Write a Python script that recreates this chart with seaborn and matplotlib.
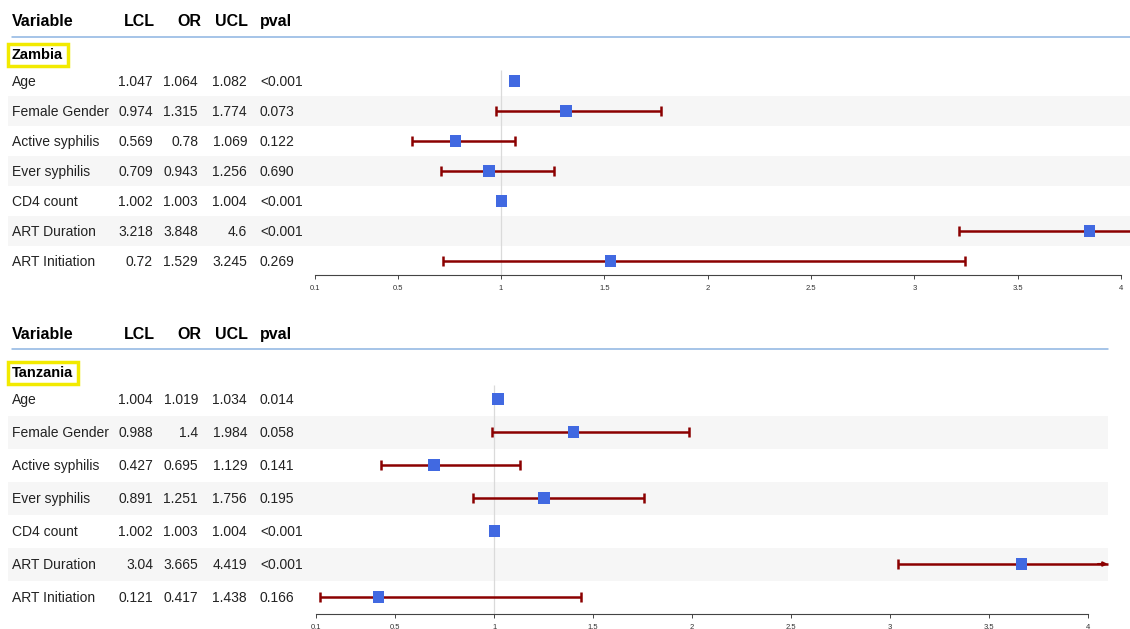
import matplotlib
matplotlib.use("Agg")
import matplotlib.pyplot as plt
import seaborn as sns
import numpy as np
from matplotlib.transforms import blended_transform_factory, offset_copy
from matplotlib.patches import Rectangle

# ---------------- data ----------------
variables = ["Age", "Female Gender", "Active syphilis", "Ever syphilis",
             "CD4 count", "ART Duration", "ART Initiation"]
columns = ["Variable", "LCL", "OR", "UCL", "pval"]

zambia_lcl = [1.047, 0.974, 0.569, 0.709, 1.002, 3.218, 0.72]
zambia_or = [1.064, 1.315, 0.78, 0.943, 1.003, 3.848, 1.529]
zambia_ucl = [1.082, 1.774, 1.069, 1.256, 1.004, 4.6, 3.245]
zambia_p = ["<0.001", "0.073", "0.122", "0.690", "<0.001", "<0.001", "0.269"]

tanz_lcl = [1.004, 0.988, 0.427, 0.891, 1.002, 3.04, 0.121]
tanz_or = [1.019, 1.4, 0.695, 1.251, 1.003, 3.665, 0.417]
tanz_ucl = [1.034, 1.984, 1.129, 1.756, 1.004, 4.419, 1.438]
tanz_p = ["0.014", "0.058", "0.141", "0.195", "<0.001", "<0.001", "0.166"]

xticks = [0.1, 0.5, 1, 1.5, 2, 2.5, 3, 3.5, 4]
xtick_labels = ["0.1", "0.5", "1", "1.5", "2", "2.5", "3", "3.5", "4"]

# ---------------- style ----------------
sns.set_theme(style="white")
plt.rcParams["font.family"] = ["Liberation Sans", "DejaVu Sans"]

W, H = 1130, 629
fig = plt.figure(figsize=(W / 100, H / 100), dpi=100)

PT_BLUE = "#4169E1"
CI_RED = "#8B0000"
SHADE = "#F6F6F6"
LINE_BLUE = "#8DB4E2"
XMAX_PLOT = 4.1


def panel(ax_top, ax_bot, age_px, row_px, header_px, line_px, label_px,
          ref_top_px, axis_px, x01_px, x4_px, line_right_px, shade_right_px,
          country, lcl, orv, ucl, pv):
    ax = fig.add_axes([0, 1 - ax_bot / H, 1, (ax_bot - ax_top) / H])
    ppu = (x4_px - x01_px) / 3.9
    ax.set_xlim(0.1 - x01_px / ppu, 0.1 + (W - x01_px) / ppu)

    def yrow(px):
        return (px - age_px) / row_px

    ax.set_ylim(yrow(ax_bot), yrow(ax_top))
    trans = blended_transform_factory(ax.transAxes, ax.transData)
    # baseline transforms: shift down by half the cap height
    tr_body = offset_copy(trans, fig=fig, x=0, y=-3.6, units="points")
    tr_head = offset_copy(trans, fig=fig, x=0, y=-4.1, units="points")
    rows = np.arange(len(variables))

    # shading of alternate rows
    for i in rows:
        if i % 2 == 1:
            ax.add_patch(Rectangle((8 / W, i - 0.5), (shade_right_px - 8) / W, 1,
                                   transform=trans, facecolor=SHADE,
                                   edgecolor="none", zorder=0))

    # header
    hx = {"Variable": (12, "left"), "LCL": (155, "right"), "OR": (201, "right"),
          "UCL": (248, "right"), "pval": (260, "left")}
    for c in columns:
        x, ha = hx[c]
        ax.text(x / W, yrow(header_px), c, transform=tr_head, ha=ha,
                va="baseline", fontsize=11.5, fontweight="bold",
                color="black")
    ax.plot([12 / W, line_right_px / W], [yrow(line_px)] * 2, transform=trans,
            color=LINE_BLUE, lw=1.1, clip_on=False)

    # country label
    ax.text(12 / W, yrow(label_px), country, transform=trans, ha="left",
            va="center", fontsize=10.5, fontweight="bold", color="black",
            bbox=dict(boxstyle="square,pad=0.3", facecolor="white",
                      edgecolor="#F2EA00", linewidth=2.5))

    # table rows
    for i, v in enumerate(variables):
        y = rows[i]
        kw = dict(transform=tr_body, va="baseline", fontsize=10,
                  color="#222222")
        ax.text(12 / W, y, v, ha="left", **kw)
        ax.text(153 / W, y, f"{lcl[i]:g}", ha="right", **kw)
        ax.text(198 / W, y, f"{orv[i]:g}", ha="right", **kw)
        ax.text(247 / W, y, f"{ucl[i]:g}", ha="right", **kw)
        ax.text(260 / W, y, pv[i], ha="left", **kw)

    # reference line
    ax.vlines(1, yrow(ref_top_px), yrow(axis_px), color="#DADADA", lw=0.9,
              zorder=1)

    # CI lines
    for i in rows:
        lo, hi = lcl[i], ucl[i]
        trunc = hi > XMAX_PLOT
        end = XMAX_PLOT if trunc else hi
        ax.plot([lo, end], [i, i], color=CI_RED, lw=1.8, zorder=2,
                solid_capstyle="butt")
        ax.plot([lo], [i], marker="|", markersize=7, mew=1.8, color=CI_RED,
                zorder=2)
        if trunc:
            ax.annotate("", xy=(XMAX_PLOT, i), xytext=(XMAX_PLOT - 0.05, i),
                        arrowprops=dict(arrowstyle="-|>", color=CI_RED, lw=1.5,
                                        mutation_scale=6, shrinkA=0, shrinkB=0),
                        zorder=2)
        else:
            ax.plot([hi], [i], marker="|", markersize=7, mew=1.8, color=CI_RED,
                    zorder=2)

    # points
    sns.scatterplot(x=orv, y=rows, marker="s", s=68, color=PT_BLUE,
                    edgecolor="none", ax=ax, zorder=3, legend=False)

    # axis
    for s in ["top", "left", "right"]:
        ax.spines[s].set_visible(False)
    ax.spines["bottom"].set_position(("data", yrow(axis_px)))
    ax.spines["bottom"].set_bounds(0.1, 4)
    ax.spines["bottom"].set_color("#444444")
    ax.spines["bottom"].set_linewidth(0.8)
    ax.set_xticks(xticks)
    ax.set_xticklabels(xtick_labels)
    ax.tick_params(axis="x", bottom=True, length=3, width=0.7, color="#444444",
                   labelsize=5.5, pad=4, labelcolor="#333333")
    ax.set_yticks([])
    ax.set_xlabel("")
    ax.set_ylabel("")
    ax.patch.set_alpha(0)
    return ax


panel(0, 300, age_px=81, row_px=30, header_px=20, line_px=37, label_px=55,
      ref_top_px=70, axis_px=275, x01_px=315, x4_px=1121, line_right_px=1130,
      shade_right_px=1130, country="Zambia",
      lcl=zambia_lcl, orv=zambia_or, ucl=zambia_ucl, pv=zambia_p)

panel(310, 629, age_px=399, row_px=33, header_px=333, line_px=349, label_px=373,
      ref_top_px=385, axis_px=614, x01_px=316, x4_px=1088, line_right_px=1108,
      shade_right_px=1108, country="Tanzania",
      lcl=tanz_lcl, orv=tanz_or, ucl=tanz_ucl, pv=tanz_p)

fig.savefig("out.png", dpi=100, facecolor="white")
